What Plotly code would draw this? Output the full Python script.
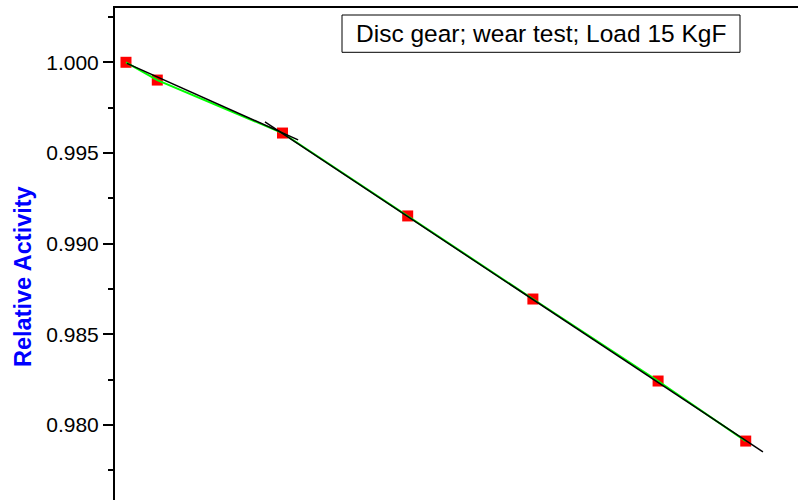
import plotly.graph_objects as go

# Data
time_x = [0, 1, 5, 9, 13, 17, 19.8]
activity = [1.0000, 0.99902, 0.99610, 0.99153, 0.98695, 0.98243, 0.97912]

fit1_x = [0.03, 5.5]
fit1_y = [0.99994, 0.99572]
fit2_x = [4.44, 20.35]
fit2_y = [0.99671, 0.97852]

y_tick_vals = [0.980, 0.985, 0.990, 0.995, 1.000]
y_tick_text = ["0.980", "0.985", "0.990", "0.995", "1.000"]

W, H = 798, 500
L, T = 115, 8
pw, ph = W - L, H - T

def px(xpix):
    return (xpix - L) / pw

def py(ypix):
    return (H - ypix) / ph

FONT = "Liberation Sans, Arial, sans-serif"

fig = go.Figure()
fig.add_trace(go.Scatter(x=time_x, y=activity, mode="markers",
                         marker=dict(symbol="square", size=11, color="#FF0000",
                                     line=dict(width=0)),
                         showlegend=False, hoverinfo="skip"))
fig.add_trace(go.Scatter(x=time_x, y=activity, mode="lines",
                         line=dict(color="#00FF00", width=2),
                         showlegend=False))
fig.add_trace(go.Scatter(x=fit1_x, y=fit1_y, mode="lines",
                         line=dict(color="black", width=1.5),
                         showlegend=False))
fig.add_trace(go.Scatter(x=fit2_x, y=fit2_y, mode="lines",
                         line=dict(color="black", width=1.5),
                         showlegend=False))

fig.update_layout(
    width=W, height=H,
    margin=dict(l=L, r=0, t=T, b=0, pad=0, autoexpand=False),
    paper_bgcolor="white", plot_bgcolor="white",
    font=dict(family=FONT, color="black"),
    xaxis=dict(range=[-0.351, 21.47], side="top", showline=True, linecolor="black",
               linewidth=2, ticks="", showticklabels=False, showgrid=False,
               zeroline=False, automargin=False),
    yaxis=dict(range=[0.975871, 1.002993], showline=True, linecolor="black",
               linewidth=2, ticks="outside", ticklen=10, tickwidth=2,
               tickcolor="black", tickvals=y_tick_vals, ticktext=y_tick_text,
               tickfont=dict(size=21, family=FONT, color="black"),
               showgrid=False, zeroline=False, automargin=False,
               minor=dict(dtick=0.0025, tick0=0.975, ticks="outside", ticklen=5,
                          tickwidth=2, tickcolor="black", showgrid=False)),
    shapes=[dict(type="rect", xref="paper", yref="paper",
                 x0=px(342), x1=px(740), y0=py(52.3), y1=py(15),
                 line=dict(color="black", width=1), fillcolor="white")],
    annotations=[
        dict(text="Disc gear; wear test; Load 15 KgF", xref="paper", yref="paper",
             x=px(541), y=py(33.5), xanchor="center", yanchor="middle",
             showarrow=False, font=dict(size=24.5, family=FONT, color="black")),
        dict(text="<b>Relative Activity</b>", xref="paper", yref="paper",
             x=px(23), y=py(277), xanchor="center", yanchor="middle",
             textangle=-90, showarrow=False,
             font=dict(size=23.5, family=FONT, color="#0000FF")),
    ],
)

fig.write_html("out.html", config={"displayModeBar": False},
               post_script="document.body.style.margin='0';document.body.style.overflow='hidden';")
